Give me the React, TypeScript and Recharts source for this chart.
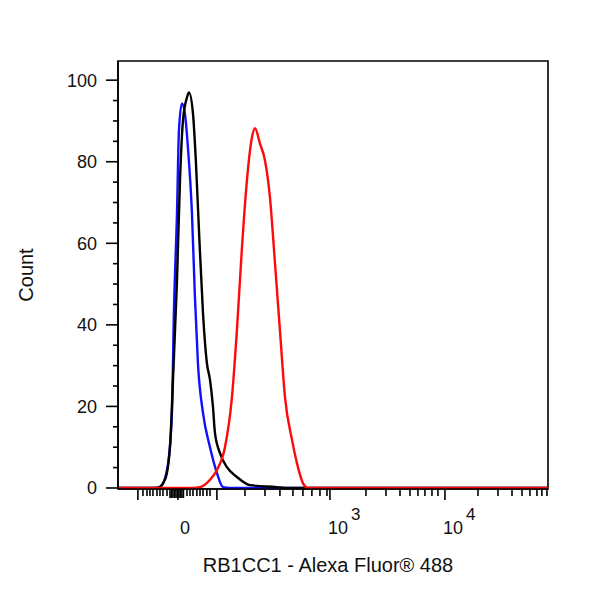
import React from "react";
import { LineChart, Line, XAxis, YAxis, ReferenceArea } from "recharts";

// x positions are in display "decade" units of the biexponential axis (10^3 = 3, 10^4 = 4)
const xDomain = [1.157, 4.896];
const yDomain = [-0.25, 104.7];

const blueX = [1.157, 1.461, 1.522, 1.583, 1.626, 1.643, 1.67, 1.687, 1.713, 1.739, 1.765, 1.8, 1.826, 1.852, 1.896, 1.957, 2.017, 2.07, 2.13, 4.896];
const blueCount = [0, 0, 0.2, 4.4, 18.4, 42.9, 67.4, 87.7, 94.3, 91.8, 83.5, 67.4, 46.8, 30.6, 18.4, 10, 3.7, 0.2, 0, 0];

const blackX = [1.157, 1.496, 1.565, 1.609, 1.635, 1.67, 1.696, 1.722, 1.757, 1.774, 1.809, 1.835, 1.861, 1.896, 1.93, 1.957, 1.983, 2.0, 2.043, 2.104, 2.191, 2.304, 2.539, 2.609, 4.896];
const blackCount = [0, 0, 2.0, 10, 26.5, 50.9, 75.4, 90.1, 95.8, 97.0, 91.8, 79.6, 63.2, 42.9, 30.6, 26.5, 19.8, 13.5, 8.6, 5.1, 2.7, 0.7, 0.2, 0, 0];

const redX = [1.157, 1.8, 1.87, 1.957, 2.017, 2.087, 2.148, 2.191, 2.235, 2.278, 2.322, 2.348, 2.391, 2.435, 2.478, 2.522, 2.565, 2.609, 2.67, 2.713, 2.765, 2.809, 4.896];
const redCount = [0, 0, 0.2, 2.0, 4.4, 10, 22.3, 38.7, 59.0, 75.4, 86.0, 88.2, 84.5, 80.3, 71.3, 55.1, 38.7, 22.3, 11.8, 6.1, 1.2, 0, 0];

const xMajorTicks = [1.33, 1.678, 2.017, 3, 4];
const xClusterTicks = [1.609, 1.622, 1.635, 1.648, 1.661, 1.674, 1.687, 1.7, 1.713, 1.726];
const xMinorTicks = [
  1.374, 1.409, 1.435, 1.461, 1.496, 1.522, 1.548, 1.583,
  1.757, 1.783, 1.809, 1.843, 1.87, 1.896, 1.93, 1.957,
  2.261, 2.435, 2.565, 2.678, 2.765, 2.843, 2.913, 2.974,
  3.313, 3.487, 3.609, 3.696, 3.765, 3.826, 3.887, 3.939,
  4.287, 4.461, 4.583, 4.67, 4.739, 4.8, 4.843, 4.887,
];
const xLabelAt = [1.678, 3, 4];
const xLabelBase = ["0", "10", "10"];
const xLabelSup = ["", "3", "4"];

const yTicks = [0, 5, 10, 15, 20, 25, 30, 35, 40, 45, 50, 55, 60, 65, 70, 75, 80, 85, 90, 95, 100];

const toPoints = (xs: number[], ys: number[]) => xs.map((x, i) => ({ x, count: ys[i] }));
const blueData = toPoints(blueX, blueCount);
const blackData = toPoints(blackX, blackCount);
const redData = toPoints(redX, redCount);

const allXTicks = [...xMajorTicks, ...xClusterTicks, ...xMinorTicks].sort((a, b) => a - b);

const FONT = "'Liberation Sans', Arial, sans-serif";

function XTick(props: any) {
  const { x, y, payload } = props;
  const v = payload.value;
  const major = xMajorTicks.includes(v);
  const cluster = xClusterTicks.includes(v);
  const len = major ? 11 : cluster ? 9 : 7;
  const li = xLabelAt.indexOf(v);
  return (
    <g>
      <line x1={x} x2={x} y1={y} y2={y + len} stroke="#000" strokeWidth={1.6} />
      {li >= 0 && xLabelSup[li] === "" && (
        <text x={x + 7} y={y + 45} textAnchor="middle" fontSize={18} fontFamily={FONT} fill="#111">
          {xLabelBase[li]}
        </text>
      )}
      {li >= 0 && xLabelSup[li] !== "" && (
        <text x={x - 2} y={y + 45} textAnchor="start" fontSize={18} fontFamily={FONT} fill="#111">
          {xLabelBase[li]}
          <tspan dx={3} dy={-14} fontSize={17}>
            {xLabelSup[li]}
          </tspan>
        </text>
      )}
    </g>
  );
}

function YTick(props: any) {
  const { x, y, payload } = props;
  const v = payload.value;
  const major = v % 20 === 0;
  return (
    <g>
      <line x1={x - (major ? 12 : 5)} x2={x} y1={y} y2={y} stroke="#000" strokeWidth={1.6} />
      {major && (
        <text x={x - 21} y={y} dy="0.36em" textAnchor="end" fontSize={18} fontFamily={FONT} fill="#111">
          {v}
        </text>
      )}
    </g>
  );
}

export default function App() {
  return (
    <div style={{ position: "absolute", left: 0, top: 0, background: "#fff" }}>
      <LineChart width={600} height={600} margin={{ top: 61, right: 52, bottom: 0, left: 0 }}>
        <XAxis
          dataKey="x"
          type="number"
          domain={xDomain}
          allowDataOverflow
          ticks={allXTicks}
          interval={0}
          tick={<XTick />}
          tickLine={false}
          tickSize={0}
          tickMargin={0}
          height={111}
          axisLine={{ stroke: "#000", strokeWidth: 1.6 }}
          label={{
            content: (p: any) => {
              const vb = p.viewBox;
              return (
                <text x={vb.x + vb.width / 2 - 5} y={vb.y + 83} textAnchor="middle" fontSize={20} fontFamily={FONT} fill="#111">
                  RB1CC1 - Alexa Fluor® 488
                </text>
              );
            },
          }}
        />
        <YAxis
          type="number"
          domain={yDomain}
          allowDataOverflow
          ticks={yTicks}
          interval={0}
          tick={<YTick />}
          tickLine={false}
          tickSize={0}
          tickMargin={0}
          width={118}
          axisLine={{ stroke: "#000", strokeWidth: 1.6 }}
          label={{
            content: (p: any) => {
              const vb = p.viewBox;
              const cx = vb.x + 33;
              const cy = vb.y + vb.height / 2;
              return (
                <text x={cx} y={cy} transform={`rotate(-90 ${cx} ${cy})`} textAnchor="middle" fontSize={20} fontFamily={FONT} fill="#111">
                  Count
                </text>
              );
            },
          }}
        />
        <ReferenceArea
          x1={xDomain[0]}
          x2={xDomain[1]}
          y1={yDomain[0]}
          y2={yDomain[1]}
          fill="none"
          stroke="#000"
          strokeWidth={1.6}
          ifOverflow="visible"
        />
        <Line data={blueData} dataKey="count" type="monotone" stroke="#1010ff" strokeWidth={2.4} dot={false} isAnimationActive={false} />
        <Line data={blackData} dataKey="count" type="monotone" stroke="#000" strokeWidth={2.4} dot={false} isAnimationActive={false} />
        <Line data={redData} dataKey="count" type="monotone" stroke="#ff0a0a" strokeWidth={2.4} dot={false} isAnimationActive={false} />
      </LineChart>
    </div>
  );
}
